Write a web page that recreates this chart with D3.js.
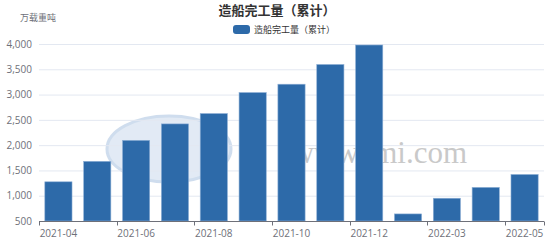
<!DOCTYPE html>
<html>
<head>
<meta charset="utf-8">
<script src="https://cdn.jsdelivr.net/npm/d3@7"></script>
<style>
  body { margin: 0; background: #fff; }
  svg text { font-family: "Noto Sans CJK SC", "Noto Sans", sans-serif; }
</style>
</head>
<body>
<svg id="chart" width="554" height="241"></svg>
<script>
var months = ["2021-04", "2021-05", "2021-06", "2021-07", "2021-08", "2021-09", "2021-10",
              "2021-11", "2021-12", "2022-02", "2022-03", "2022-04", "2022-05"];
var completed = [1275, 1680, 2095, 2420, 2625, 3040, 3205, 3595, 3980, 640, 950, 1165, 1420];
var yTicks = [500, 1000, 1500, 2000, 2500, 3000, 3500, 4000];
var seriesName = "造船完工量（累计）";

var svg = d3.select("#chart"),
    margin = {top: 44, right: 10, bottom: 20, left: 39},
    width = +svg.attr("width") - margin.left - margin.right,
    height = +svg.attr("height") - margin.top - margin.bottom;

var barColor = "#2d6aa9";

// title + legend
svg.append("text")
    .attr("x", 277).attr("y", 15)
    .attr("text-anchor", "middle")
    .attr("font-size", 13).attr("font-weight", "bold")
    .attr("fill", "#333")
    .text(seriesName);

svg.append("rect")
    .attr("x", 233).attr("y", 25).attr("width", 17).attr("height", 9)
    .attr("rx", 3).attr("fill", barColor);
svg.append("text")
    .attr("x", 254).attr("y", 33)
    .attr("font-size", 9).attr("fill", "#333")
    .text(seriesName);

var g = svg.append("g")
    .attr("transform", "translate(" + margin.left + "," + margin.top + ")");

var x = d3.scaleBand().domain(months).range([0, width]).paddingInner(0.3).paddingOuter(0.15),
    xb = d3.scaleBand().domain(months).range([0, width]),
    y = d3.scaleLinear().domain([500, 4000]).range([height, 0]);

// watermark
g.append("ellipse")
    .attr("cx", 130).attr("cy", 105).attr("rx", 62).attr("ry", 33)
    .attr("fill", "#dbe6f3").attr("stroke", "#c4d5ea").attr("stroke-width", 3).attr("opacity", 0.8);
g.append("text")
    .attr("x", 428).attr("y", 119)
    .attr("text-anchor", "end")
    .attr("font-family", "Liberation Serif, serif")
    .attr("font-size", 31).attr("fill", "#c9c9c9")
    .style("font-family", "'Liberation Serif', serif")
    .text("www.lmi.com");

// grid
g.selectAll("line.grid")
  .data(yTicks.slice(1))
  .enter().append("line")
    .attr("class", "grid")
    .attr("x1", 0).attr("x2", width)
    .attr("y1", function(d) { return y(d) + 0.5; })
    .attr("y2", function(d) { return y(d) + 0.5; })
    .attr("stroke", "#e3e8f1");

// y labels
g.append("g")
    .attr("class", "axis axisy")
    .call(d3.axisLeft(y).tickValues(yTicks).tickFormat(d3.format(",")).tickSize(0).tickPadding(7))
    .call(function(a) { a.select(".domain").remove(); })
    .selectAll("text")
    .attr("font-size", 10).attr("fill", "#6e7079")
    .style("font-family", "'Open Sans', 'Noto Sans', sans-serif");

svg.append("text")
    .attr("x", 38).attr("y", 21)
    .attr("text-anchor", "middle")
    .attr("font-size", 9).attr("fill", "#6e7079")
    .text("万载重吨");

// bars
g.selectAll("rect.bar")
  .data(completed)
  .enter().append("rect")
    .attr("class", "bar")
    .attr("x", function(d, i) { return x(months[i]); })
    .attr("y", function(d) { return y(d); })
    .attr("width", x.bandwidth())
    .attr("height", function(d) { return height - y(d); })
    .attr("fill", barColor)
    .attr("stroke", "#8fb0d6").attr("stroke-width", 0.6);

// x axis
var xa = g.append("g")
    .attr("class", "axis axisx")
    .attr("transform", "translate(0," + (height + 0.5) + ")");
xa.append("line")
    .attr("x1", 0).attr("x2", width)
    .attr("stroke", "#6e7079");
var tickIdx = [0, 2, 4, 6, 8, 10, 12];
xa.selectAll("line.tick")
  .data(tickIdx.map(function(i) { return xb(months[i]); }).concat([width]))
  .enter().append("line")
    .attr("class", "tick")
    .attr("x1", function(d) { return Math.round(d) + 0.5; })
    .attr("x2", function(d) { return Math.round(d) + 0.5; })
    .attr("y1", 0).attr("y2", 4)
    .attr("stroke", "#6e7079");
xa.selectAll("text")
  .data(tickIdx)
  .enter().append("text")
    .attr("x", function(i) { return xb(months[i]) + xb.bandwidth() / 2; })
    .attr("y", 15)
    .attr("text-anchor", "middle")
    .attr("font-size", 10).attr("fill", "#6e7079")
    .style("font-family", "'Open Sans', 'Noto Sans', sans-serif")
    .text(function(i) { return months[i]; });
</script>
</body>
</html>
